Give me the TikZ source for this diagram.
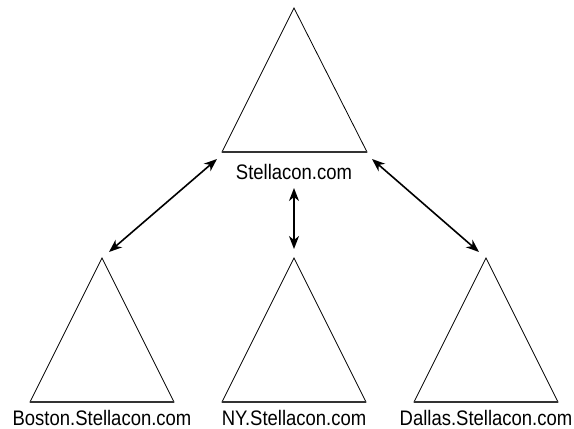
\documentclass[tikz,border=0pt]{standalone}
\usepackage{fontspec}
\setmainfont{Liberation Sans}[FakeStretch=0.88]
\usetikzlibrary{arrows.meta}
\tikzset{
  tree/.style={draw, line width=0.8pt, line join=miter},
  treebase/.style={line width=1.5pt, black!80},
  link/.style={line width=1.6pt, {Stealth[length=13pt,width=10pt,inset=4pt]}-{Stealth[length=13pt,width=10pt,inset=4pt]}},
  domlabel/.style={font=\fontsize{21}{21}\selectfont, inner sep=0pt, anchor=base}
}

\begin{document}
\begin{tikzpicture}[x=1pt,y=-1pt]
  \useasboundingbox (0,0) rectangle (574,429);
  % forest root domain
  \draw[tree] (294,8) -- (367,152) -- (222,152) -- cycle;
  \draw[treebase] (222,152) -- (367,152);
  \node[domlabel] (root) at (294,179) {Stellacon.com};
  % child domains
  \foreach \cx/\nm/\txt in {102/boston/Boston.Stellacon.com, 294/ny/NY.Stellacon.com, 486/dallas/Dallas.Stellacon.com} {
    \draw[tree] (\cx,258) -- (\cx+72,402) -- (\cx-72,402) -- cycle;
    \draw[treebase] (\cx-72,402) -- (\cx+72,402);
    \node[domlabel] (\nm) at (\cx,425) {\txt};
  }
  % trust links
  \coordinate (rootL) at (217,159);
  \coordinate (rootM) at (294,188);
  \coordinate (rootR) at (372,159);
  \coordinate (bostonA) at (109,252);
  \coordinate (nyA) at (294,249);
  \coordinate (dallasA) at (479,252);
  \draw[link] (rootL) -- (bostonA);
  \draw[link] (rootM) -- (nyA);
  \draw[link] (rootR) -- (dallasA);
\end{tikzpicture}
\end{document}
